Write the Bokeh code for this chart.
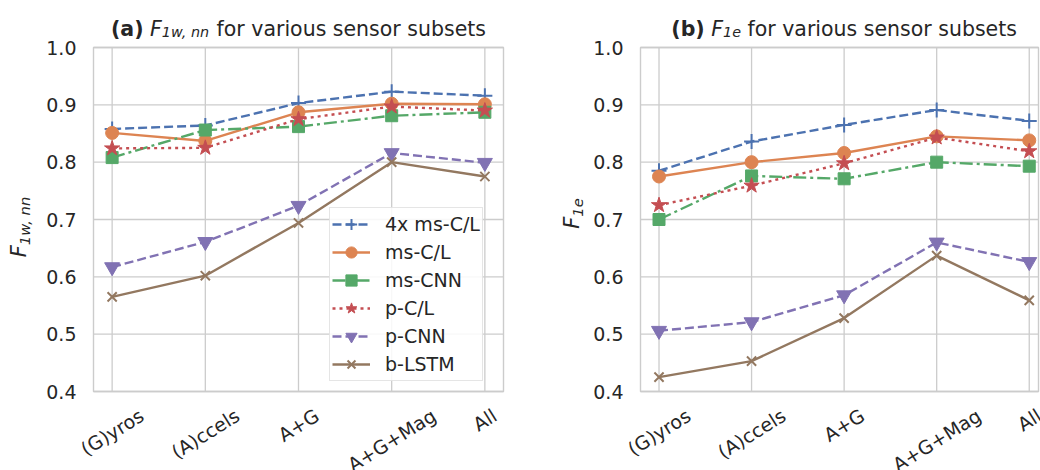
import math
from bokeh.plotting import figure
from bokeh.models import ColumnDataSource, Legend, LegendItem, Range1d
from bokeh.core.properties import value
from bokeh.layouts import row
from bokeh.embed import file_html
from bokeh.resources import INLINE

# ---------------- data ----------------
subsets = ["(G)yros", "(A)ccels", "A+G", "A+G+Mag", "All"]
series_names = ["4x ms-C/L", "ms-C/L", "ms-CNN", "p-C/L", "p-CNN", "b-LSTM"]
y_ticks = [0.4, 0.5, 0.6, 0.7, 0.8, 0.9, 1.0]
y_tick_labels = ["0.4", "0.5", "0.6", "0.7", "0.8", "0.9", "1.0"]

f1w_4x_ms_cl = [0.858, 0.864, 0.903, 0.923, 0.916]
f1w_ms_cl = [0.851, 0.837, 0.887, 0.902, 0.901]
f1w_ms_cnn = [0.808, 0.856, 0.862, 0.881, 0.887]
f1w_p_cl = [0.824, 0.825, 0.875, 0.897, 0.890]
f1w_p_cnn = [0.617, 0.661, 0.724, 0.816, 0.799]
f1w_b_lstm = [0.565, 0.602, 0.694, 0.800, 0.775]

f1e_4x_ms_cl = [0.785, 0.836, 0.865, 0.891, 0.872]
f1e_ms_cl = [0.775, 0.800, 0.816, 0.845, 0.838]
f1e_ms_cnn = [0.700, 0.776, 0.771, 0.800, 0.793]
f1e_p_cl = [0.725, 0.759, 0.798, 0.843, 0.819]
f1e_p_cnn = [0.506, 0.521, 0.568, 0.660, 0.626]
f1e_b_lstm = [0.425, 0.453, 0.528, 0.637, 0.559]

left_series = [f1w_4x_ms_cl, f1w_ms_cl, f1w_ms_cnn, f1w_p_cl, f1w_p_cnn, f1w_b_lstm]
right_series = [f1e_4x_ms_cl, f1e_ms_cl, f1e_ms_cnn, f1e_p_cl, f1e_p_cnn, f1e_b_lstm]

# ---------------- styles ----------------
FONT = "DejaVu Sans"
TXT = "#262626"
GRID = "#cccccc"
styles = [
    dict(color="#4C72B0", dash="9 4", marker="cross", size=15),
    dict(color="#DD8452", dash="solid", marker="circle", size=13),
    dict(color="#55A868", dash="13 4 3 4", marker="square", size=12),
    dict(color="#C44E52", dash="3 4", marker="star", size=16),
    dict(color="#8172B3", dash="9 4", marker="inverted_triangle", size=15),
    dict(color="#937860", dash="solid", marker="x", size=13),
]

# approximate DejaVu Sans advance widths (em), used only to place text parts
W = {' ': 0.318, '(': 0.390, ')': 0.390, '+': 0.838, ',': 0.318, '-': 0.361, '/': 0.337,
     '1': 0.636, '4': 0.636, 'A': 0.684, 'C': 0.698, 'F': 0.575, 'G': 0.775, 'L': 0.557,
     'M': 0.863, 'S': 0.635, 'T': 0.611, 'a': 0.613, 'b': 0.635, 'c': 0.550, 'e': 0.615,
     'f': 0.352, 'g': 0.635, 'i': 0.278, 'l': 0.278, 'm': 0.974, 'n': 0.634, 'o': 0.612,
     'r': 0.411, 's': 0.521, 't': 0.392, 'u': 0.634, 'v': 0.592, 'w': 0.818, 'x': 0.592,
     'y': 0.592}
WB = {' ': 0.348, '(': 0.457, ')': 0.457, 'a': 0.675, 'b': 0.716}


def tw(s, size, bold=False):
    tab = WB if bold else W
    return sum(tab.get(ch, W.get(ch, 0.6)) for ch in s) * size


TICK_FS = 19
XTICK_FS = 19
TITLE_FS = 20.5
YLAB_FS = 21
LEG_FS = 19
X_MIN = -0.2
Y_MIN, Y_MAX = 0.4, 1.0
FIG_W, FIG_H = 520, 470
BOX_TOP, BOX_BOTTOM = 47, 391   # pixel rows of the plot box
ROT = 32                         # x tick label rotation (deg)


def make_panel(series, tag, sub, xmax, box_left, box_right, ylab_x, ylab_cy, with_legend):
    ppx = (box_right - box_left) / (xmax - X_MIN)
    ppy = (BOX_BOTTOM - BOX_TOP) / (Y_MAX - Y_MIN)

    def X(px):
        return X_MIN + (px - box_left) / ppx

    def Y(py):
        return Y_MAX - (py - BOX_TOP) / ppy

    p = figure(width=FIG_W, height=FIG_H, x_range=Range1d(X(0), X(FIG_W)),
               y_range=Range1d(Y(FIG_H), Y(0)), output_backend="svg", toolbar_location=None,
               x_axis_location=None, y_axis_location=None,
               min_border=0, min_border_left=0, min_border_right=0,
               min_border_top=0, min_border_bottom=0)
    p.grid.visible = False
    p.outline_line_color = None
    p.background_fill_color = "white"
    p.border_fill_color = "white"

    xs = list(range(len(subsets)))

    # grid + box
    p.segment(x0=xs, y0=[Y_MIN] * len(xs), x1=xs, y1=[Y_MAX] * len(xs),
              line_color=GRID, line_width=1.3)
    p.segment(x0=[X_MIN] * len(y_ticks), y0=y_ticks, x1=[xmax] * len(y_ticks), y1=y_ticks,
              line_color=GRID, line_width=1.3)
    p.quad(left=[X_MIN], right=[xmax], bottom=[Y_MIN], top=[Y_MAX], fill_color=None,
           line_color=GRID, line_width=1.4)

    # y tick labels
    p.text(x=[X(box_left - 17)] * len(y_ticks), y=y_ticks, text=y_tick_labels,
           text_align="right", text_baseline="middle", text_font=value(FONT),
           text_font_size=f"{TICK_FS}px", text_color=TXT)

    # x tick labels rotated, bbox centred under the tick
    sn, cs = math.sin(math.radians(ROT)), math.cos(math.radians(ROT))
    ly = [Y(BOX_BOTTOM + 14 + (tw(s, XTICK_FS) * sn + XTICK_FS * cs) / 2) for s in subsets]
    lsrc = ColumnDataSource(dict(x=xs, y=ly, text=subsets))
    p.text(x="x", y="y", text="text", source=lsrc, angle=ROT, angle_units="deg",
           text_align="center", text_baseline="middle", text_font=value(FONT),
           text_font_size=f"{XTICK_FS}px", text_color=TXT)

    # series
    items = []
    for name, vals, st in zip(series_names, series, styles):
        src = ColumnDataSource(dict(x=xs, y=vals))
        lr = p.line("x", "y", source=src, line_color=st["color"], line_width=2.4,
                    line_dash=st["dash"])
        if st["marker"] in ("cross", "x"):
            sr = p.scatter("x", "y", source=src, marker=st["marker"], size=st["size"],
                           line_color=st["color"], line_width=2)
        else:
            sr = p.scatter("x", "y", source=src, marker=st["marker"], size=st["size"],
                           fill_color=st["color"], line_color=st["color"], line_width=1)
        items.append(LegendItem(label=name, renderers=[lr, sr]))

    if with_legend:
        leg = Legend(items=items, location=(329, FIG_H - 381))
        leg.label_text_font = FONT
        leg.label_text_font_size = f"{LEG_FS}px"
        leg.label_text_color = TXT
        leg.glyph_width = 38
        leg.glyph_height = 28
        leg.label_height = 28
        leg.spacing = -1
        leg.padding = 2
        leg.margin = 0
        leg.label_standoff = 15
        leg.border_line_color = GRID
        leg.border_line_width = 1.2
        leg.background_fill_alpha = 0.85
        p.add_layout(leg)

    # title: (tag) F_sub for various sensor subsets
    sub_fs = TITLE_FS * 0.7
    parts = [(f"({tag})", "bold", TITLE_FS, 0), (" ", "normal", TITLE_FS, 0),
             ("F", "italic", TITLE_FS, 0), (sub, "italic", sub_fs, 3),
             (" ", "normal", TITLE_FS, 0),
             ("for various sensor subsets", "normal", TITLE_FS, 0)]
    widths = [tw(t, fs, st == "bold") for t, st, fs, _ in parts]
    cx = box_left + (2.0 - X_MIN) * ppx - sum(widths) / 2
    for (t, st, fs, dy), w in zip(parts, widths):
        if t.strip():
            p.text(x=[X(cx)], y=[Y(28 + dy)], text=[t], text_font=value(FONT),
                   text_font_style=st, text_font_size=f"{fs}px", text_color=TXT,
                   text_align="left", text_baseline="middle")
        cx += w

    # y axis label: F_sub rotated 90 deg
    ysub_fs = YLAB_FS * 0.7
    yparts = [("F", YLAB_FS, 0), (sub, ysub_fs, 6)]
    ywid = [tw(t, fs) for t, fs, _ in yparts]
    cy = ylab_cy + sum(ywid) / 2
    for (t, fs, dx), w in zip(yparts, ywid):
        p.text(x=[X(ylab_x + dx)], y=[Y(cy)], text=[t], angle=math.pi / 2,
               text_font=value(FONT), text_font_style="italic", text_font_size=f"{fs}px",
               text_color=TXT, text_align="left", text_baseline="middle")
        cy -= w
    return p


left = make_panel(left_series, "a", "1w, nn", 4.2, 93, 503, 18, 226, True)
right = make_panel(right_series, "b", "1e", 4.1, 120, 518, 51, 213, False)

layout = row(left, right, spacing=0)
open("out.html", "w").write(file_html(layout, INLINE))
